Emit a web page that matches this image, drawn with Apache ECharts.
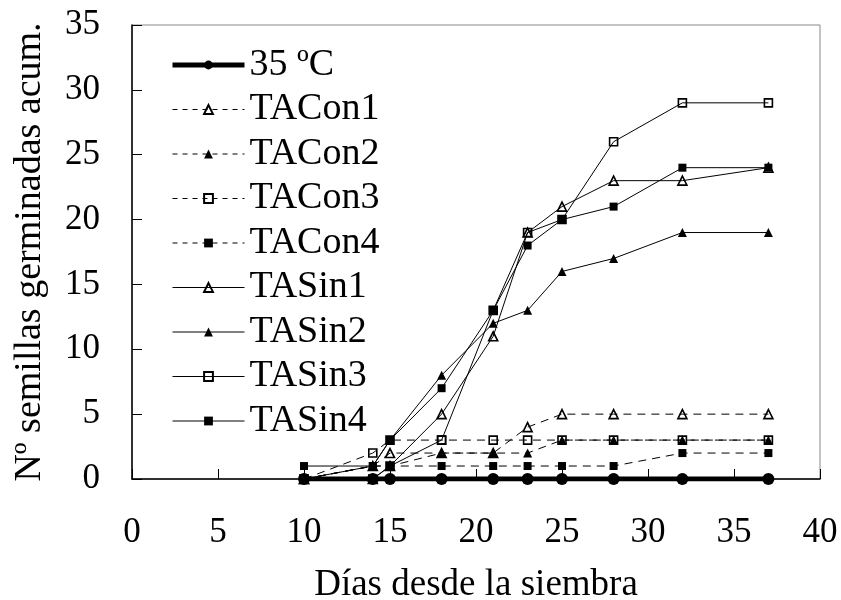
<!DOCTYPE html>
<html>
<head>
<meta charset="utf-8">
<script src="https://cdn.jsdelivr.net/npm/echarts@6/dist/echarts.min.js"></script>
<style>
  html, body { margin: 0; padding: 0; background: #fff; }
  #chart { width: 841px; height: 600px; }
</style>
</head>
<body>
<div id="chart"></div>
<script>
// Days after sowing at which germinated seeds were counted
const days = [10, 14, 15, 18, 21, 23, 25, 28, 32, 37];

// Cumulative germinated seeds per treatment
const t35 = [0, 0, 0, 0, 0, 0, 0, 0, 0, 0];
const taCon1 = [0, 1, 2, 2, 2, 4, 5, 5, 5, 5];
const taCon2 = [0, 1, 1, 2, 2, 2, 3, 3, 3, 3];
const taCon3 = [0, 2, 3, 3, 3, 3, 3, 3, 3, 3];
const taCon4 = [0, 1, 1, 1, 1, 1, 1, 1, 2, 2];
const taSin1 = [0, 0, 1, 5, 11, 19, 21, 23, 23, 24];
const taSin2 = [0, 1, 3, 8, 12, 13, 16, 17, 19, 19];
const taSin3 = [0, 0, 1, 3, 13, 19, 20, 26, 29, 29];
const taSin4 = [1, 1, 3, 7, 13, 18, 20, 21, 24, 24];

const FONT = 'Liberation Serif';

function pairs(vals) {
  return days.map((d, i) => [d, vals[i]]);
}

function series(name, vals, symbol, filled, dashed) {
  return {
    name: name,
    type: 'line',
    data: pairs(vals),
    symbol: symbol,
    symbolSize: symbol === 'rect' ? 8 : 9,
    showSymbol: true,
    animation: false,
    lineStyle: { color: '#000', width: 1, type: dashed ? [8, 6] : 'solid' },
    itemStyle: {
      color: filled ? '#000' : 'rgba(255,255,255,0)',
      borderColor: '#000',
      borderWidth: filled ? 0 : 1.6
    }
  };
}

const allSeries = [
  {
    name: '35 ºC',
    type: 'line',
    data: pairs(t35),
    symbol: 'circle',
    symbolSize: 12,
    animation: false,
    lineStyle: { color: '#000', width: 5 },
    itemStyle: { color: '#000' }
  },
  series('TACon1', taCon1, 'triangle', false, true),
  series('TACon2', taCon2, 'triangle', true, true),
  series('TACon3', taCon3, 'rect', false, true),
  series('TACon4', taCon4, 'rect', true, true),
  series('TASin1', taSin1, 'triangle', false, false),
  series('TASin2', taSin2, 'triangle', true, false),
  series('TASin3', taSin3, 'rect', false, false),
  series('TASin4', taSin4, 'rect', true, false)
];

// Legend entries: the thick reference line keeps its width, dashed ones get short dashes
const legendData = allSeries.map((s, i) => {
  if (i === 0) return { name: s.name, lineStyle: { width: 5, color: '#000' } };
  const dashed = s.lineStyle.type !== 'solid';
  return { name: s.name, lineStyle: { width: 1, color: '#000', type: dashed ? [5, 5] : 'solid' } };
});

const chart = echarts.init(document.getElementById('chart'), null, { renderer: 'canvas' });
chart.setOption({
  backgroundColor: '#fff',
  animation: false,
  textStyle: { fontFamily: FONT },
  grid: {
    left: 132, right: 21, top: 25, bottom: 121,
    outerBoundsMode: 'none',
    containLabel: false,
    show: true, borderColor: '#888', borderWidth: 1
  },
  legend: {
    orient: 'vertical',
    left: 170,
    top: 46,
    padding: 0,
    itemWidth: 72,
    itemHeight: 11,
    itemGap: 6.5,
    textStyle: { fontFamily: FONT, fontSize: 38, color: '#000', lineHeight: 38 },
    data: legendData
  },
  xAxis: {
    type: 'value',
    min: 0, max: 40, interval: 5,
    name: 'Días desde la siembra',
    nameLocation: 'middle',
    nameGap: 88,
    nameTextStyle: { fontFamily: FONT, fontSize: 37, color: '#000' },
    axisLine: { onZero: false, lineStyle: { color: '#000', width: 1.5 } },
    axisTick: { inside: true, length: 10, lineStyle: { color: '#000', width: 1 } },
    axisLabel: { margin: 36, fontFamily: FONT, fontSize: 35, color: '#000' },
    splitLine: { show: false }
  },
  yAxis: {
    type: 'value',
    min: 0, max: 35, interval: 5,
    name: 'Nº semillas germinadas acum.',
    nameLocation: 'middle',
    nameRotate: 90,
    nameGap: 83,
    nameTextStyle: { fontFamily: FONT, fontSize: 38, color: '#000' },
    axisLine: { onZero: false, lineStyle: { color: '#000', width: 1.5 } },
    axisTick: { inside: true, length: 10, lineStyle: { color: '#000', width: 1 } },
    axisLabel: { margin: 32, fontFamily: FONT, fontSize: 35, color: '#000', padding: [6, 0, 0, 0] },
    splitLine: { show: false }
  },
  series: allSeries
});
</script>
</body>
</html>
